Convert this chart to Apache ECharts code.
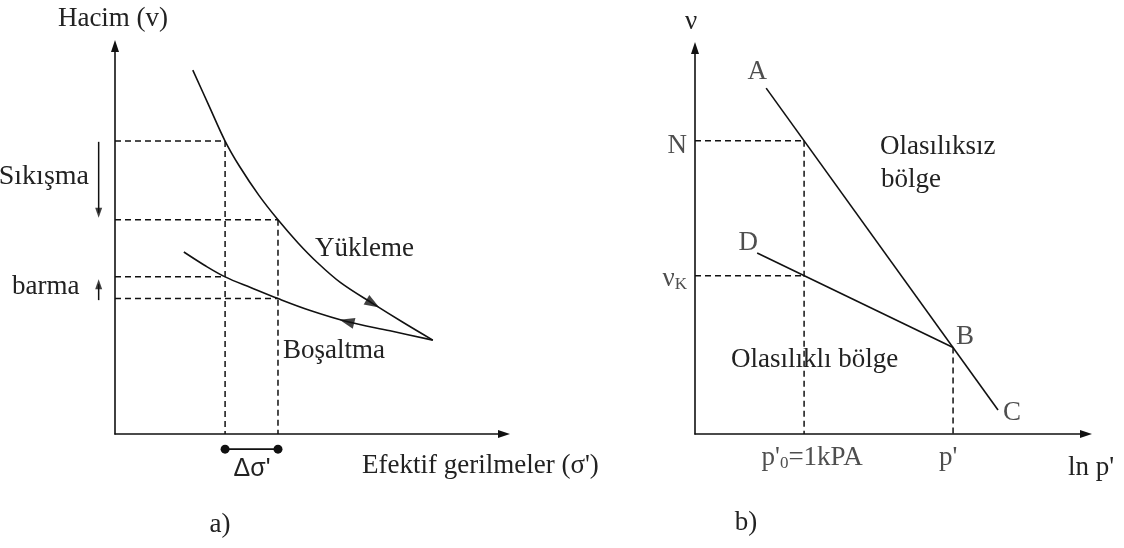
<!DOCTYPE html>
<html>
<head>
<meta charset="utf-8">
<script src="https://cdn.jsdelivr.net/npm/echarts@6/dist/echarts.min.js"></script>
<style>
  html, body { margin: 0; padding: 0; background: #ffffff; }
  #chart { width: 1124px; height: 548px; }
</style>
</head>
<body>
<div id="chart"></div>
<script>
// ---- a) volume vs. effective stress: loading and unloading paths ----
const loadingCurve = [
  [2.0, 9.38], [2.42, 8.45], [2.83, 7.55], [3.2, 6.9], [3.7, 6.15], [4.19, 5.52],
  [4.7, 4.93], [5.2, 4.42], [5.8, 3.9], [6.63, 3.36], [7.4, 2.88], [8.17, 2.42]
];
const unloadingCurve = [
  [8.17, 2.42], [7.07, 2.66], [5.96, 2.9], [5.0, 3.19], [4.19, 3.49],
  [3.5, 3.77], [2.83, 4.05], [2.3, 4.35], [1.77, 4.69]
];
const stressSteps = [2.83, 4.19];          // the two stress levels, Δσ' apart
const loadingVolumes = [7.55, 5.52];       // loading path at those stresses
const unloadingVolumes = [4.05, 3.49];     // unloading path at those stresses
const directionMarks = [[6.63, 3.36], [5.96, 2.9]];   // arrows along each path
const compressionArrow = [[-0.42, 7.53], [-0.42, 5.70]];
const swellingArrow = [[-0.42, 3.45], [-0.42, 3.86]];
const deltaBar = [[2.83, -0.39], [4.19, -0.39]];

// ---- b) v vs. ln p': normal consolidation line and unloading line ----
const nclLine = [[1.82, 8.96], [7.75, 0.62]];   // A → C
const urlLine = [[1.59, 4.69], [6.60, 2.24]];   // D → B
const pRef = 2.79;      // p'0 = 1 kPa
const pYield = 6.60;    // p'
const vN = 7.60;
const vK = 4.10;

const INK = '#111111';
const TXT = '#222222';
const SERIF = 'Liberation Serif';
const FS = 27;

const chart = echarts.init(document.getElementById('chart'), null, { renderer: 'canvas' });

function axis(gridIndex) {
  return {
    gridIndex, type: 'value', min: 0, max: 10,
    axisLine: { show: true, onZero: false, symbol: ['none', 'triangle'], symbolSize: [8, 12],
      lineStyle: { color: INK, width: 1.6 } },
    axisTick: { show: false }, axisLabel: { show: false }, splitLine: { show: false }
  };
}

function solid(xi, data, extra) {
  return Object.assign({
    type: 'line', xAxisIndex: xi, yAxisIndex: xi, data, symbol: 'none', smooth: false,
    clip: false, silent: true, animation: false,
    lineStyle: { color: INK, width: 1.6 }
  }, extra || {});
}
function dashed(xi, data, extra) {
  return solid(xi, data, Object.assign({ lineStyle: { color: INK, width: 1.5, type: [6, 4] } }, extra || {}));
}
function marks(xi, items, size) {
  return {
    type: 'scatter', xAxisIndex: xi, yAxisIndex: xi, clip: false, silent: true, animation: false,
    symbol: 'triangle', symbolSize: size, itemStyle: { color: INK }, data: items
  };
}
// short strokes beside the volume axis (compression / swelling arrows)
function strokes(xi, segments) {
  return {
    type: 'custom', xAxisIndex: xi, yAxisIndex: xi, silent: true, animation: false, clip: false,
    data: segments.map(s => [s[0][0], s[0][1], s[1][0], s[1][1]]),
    encode: { x: [0, 2], y: [1, 3] },
    renderItem(params, api) {
      const a = api.coord([api.value(0), api.value(1)]);
      const b = api.coord([api.value(2), api.value(3)]);
      return { type: 'line', shape: { x1: a[0], y1: a[1], x2: b[0], y2: b[1] },
               style: { stroke: INK, lineWidth: 1.5 } };
    }
  };
}
function labelStyle(size) {
  return { fontFamily: SERIF, fontSize: size || FS, color: TXT };
}
function pointLabel(value, text, position, offset, distance) {
  return {
    value,
    label: Object.assign({ show: true, formatter: text, position, offset: offset || [0, 0],
      distance: distance == null ? 5 : distance }, labelStyle(),
      { rich: { sub: { fontFamily: SERIF, fontSize: 17, color: TXT, verticalAlign: 'bottom', padding: [11, 0, 0, 0] } } })
  };
}

const series = [
  // panel a
  solid(0, loadingCurve, { smooth: 0.35 }),
  solid(0, unloadingCurve, { smooth: 0.35 }),
  marks(0, [
    { value: directionMarks[0], symbolRotate: -121 },
    { value: directionMarks[1], symbolRotate: 76 }
  ], [11, 15]),
  dashed(0, [[0, loadingVolumes[0]], [stressSteps[0], loadingVolumes[0]]]),
  dashed(0, [[0, loadingVolumes[1]], [stressSteps[1], loadingVolumes[1]]]),
  dashed(0, [[0, unloadingVolumes[0]], [stressSteps[0], unloadingVolumes[0]]]),
  dashed(0, [[0, unloadingVolumes[1]], [stressSteps[1], unloadingVolumes[1]]]),
  dashed(0, [[stressSteps[0], loadingVolumes[0]], [stressSteps[0], 0]]),
  dashed(0, [[stressSteps[1], loadingVolumes[1]], [stressSteps[1], 0]]),
  strokes(0, [compressionArrow, swellingArrow]),
  marks(0, [
    { value: compressionArrow[1], symbolRotate: 180 },
    { value: swellingArrow[1], symbolRotate: 0 }
  ], [7, 10]),
  solid(0, deltaBar, { symbol: 'circle', symbolSize: 9, showSymbol: true,
    itemStyle: { color: INK }, lineStyle: { color: INK, width: 1.8 } }),

  // panel b
  solid(1, nclLine),
  solid(1, urlLine),
  dashed(1, [[0, vN], [pRef, vN]]),
  dashed(1, [[pRef, vN], [pRef, 0]]),
  dashed(1, [[0, vK], [pRef, vK]]),
  dashed(1, [[pYield, urlLine[1][1]], [pYield, 0]]),
  {
    type: 'scatter', xAxisIndex: 1, yAxisIndex: 1, clip: false, silent: true, animation: false,
    symbolSize: 0, itemStyle: { color: 'transparent' },
    data: [
      pointLabel(nclLine[0], 'A', 'top', [-9, 0], 3),
      pointLabel(nclLine[1], 'C', 'right', [0, 3], 5),
      pointLabel(urlLine[0], 'D', 'top', [-9, 6], 3),
      pointLabel(urlLine[1], 'B', 'right', [0, -11], 3),
      pointLabel([0, vN], 'N', 'left', [0, 5], 8),
      pointLabel([0, vK], 'ν{sub|K}', 'left', [0, 3], 8),
      pointLabel([pRef, 0], "p'{sub|0}=1kPA", 'bottom', [8, 0], 10),
      pointLabel([pYield, 0], "p'", 'bottom', [-5, 0], 10)
    ]
  }
];

function text(x, y, str, align, extra) {
  return {
    type: 'text', x, y, silent: true,
    style: Object.assign({
      text: str, fill: TXT, font: FS + 'px "' + SERIF + '"',
      align: align || 'left', textAlign: align || 'left',
      verticalAlign: 'middle', textVerticalAlign: 'middle'
    }, extra || {})
  };
}

chart.setOption({
  backgroundColor: '#ffffff',
  animation: false,
  grid: [
    { left: 115, top: 46, width: 389, height: 388 },
    { left: 695, top: 48, width: 391, height: 386 }
  ],
  xAxis: [axis(0), axis(1)],
  yAxis: [axis(0), axis(1)],
  series,
  graphic: [
    text(113, 19, 'Hacim (v)', 'center'),
    text(89, 177, 'Sıkışma', 'right', { font: '28px "' + SERIF + '"' }),
    text(12, 287, 'barma', 'left'),
    text(315, 249, 'Yükleme', 'left'),
    text(283, 351, 'Boşaltma', 'left'),
    text(362, 466, "Efektif gerilmeler (σ')", 'left'),
    text(252, 469, "Δσ'", 'center', { font: '25px "Liberation Sans"' }),
    text(220, 525, 'a)', 'center'),
    text(691, 22, 'ν', 'center'),
    text(880, 147, 'Olasılıksız', 'left'),
    text(881, 180, 'bölge', 'left'),
    text(731, 360, 'Olasılıklı bölge', 'left'),
    text(1068, 468, "ln p'", 'left'),
    text(746, 523, 'b)', 'center')
  ]
});
</script>
</body>
</html>
